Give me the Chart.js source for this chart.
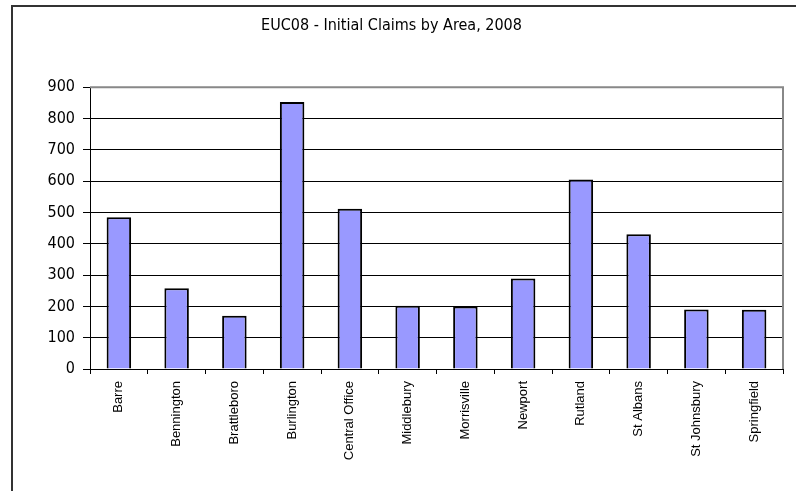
<!DOCTYPE html>
<html>
<head>
<meta charset="utf-8">
<script src="https://cdn.jsdelivr.net/npm/chart.js@4"></script>
<style>
  html, body { margin: 0; padding: 0; background: #fff; }
  #wrap { position: relative; width: 796px; height: 491px; }
</style>
</head>
<body>
<div id="wrap"><canvas id="claimsChart" width="796" height="491"></canvas></div>
<script>
// data
const areas = ['Barre', 'Bennington', 'Brattleboro', 'Burlington', 'Central Office', 'Middlebury',
               'Morrisville', 'Newport', 'Rutland', 'St Albans', 'St Johnsbury', 'Springfield'];
const claims = [485, 258, 170, 853, 512, 202, 200, 289, 605, 430, 190, 189];
const yTicks = [0, 100, 200, 300, 400, 500, 600, 700, 800, 900];

// frame around the picture + gray plot border on top/right
const framePlugin = {
    id: 'frame',
    beforeDraw(chart) {
        const c = chart.ctx;
        c.save();
        c.strokeStyle = '#333';
        c.lineWidth = 2;
        c.beginPath();
        c.moveTo(12, 491);
        c.lineTo(12, 6);
        c.lineTo(796, 6);
        c.stroke();
        c.restore();
    },
    afterDatasetsDraw(chart) {
        const a = chart.chartArea;
        const c = chart.ctx;
        c.save();
        c.strokeStyle = '#888';
        c.lineWidth = 2;
        c.beginPath();
        c.moveTo(a.left, a.top);
        c.lineTo(a.right, a.top);
        c.lineTo(a.right, a.bottom);
        c.stroke();
        c.restore();
    }
};

const narrow = "'DejaVu Sans Condensed', 'Liberation Sans', Arial, sans-serif";
Chart.defaults.font.family = "'Liberation Sans', Arial, sans-serif";
Chart.defaults.color = '#000';

new Chart(document.getElementById('claimsChart'), {
    type: 'bar',
    data: {
        labels: areas,
        datasets: [{
            label: 'Initial Claims',
            data: claims,
            backgroundColor: '#9999ff',
            borderColor: '#000',
            borderWidth: 2,
            barPercentage: 0.53,
            categoryPercentage: 0.8
        }]
    },
    options: {
        responsive: false,
        animation: false,
        layout: { padding: { left: 0, right: 13, top: 0, bottom: 0 } },
        plugins: {
            legend: { display: false },
            tooltip: { enabled: false },
            title: {
                display: true,
                text: 'EUC08 - Initial Claims by Area, 2008',
                font: { family: narrow, size: 16, weight: 'normal' },
                color: '#000',
                padding: { top: 16, bottom: 52 }
            }
        },
        scales: {
            x: {
                grid: { offset: true, drawOnChartArea: false, drawTicks: true, tickLength: 5, color: '#000' },
                border: { color: '#000', width: 1 },
                ticks: { maxRotation: 90, minRotation: 90, padding: 7, font: { size: 13 } },
                afterFit(scale) { scale.height = 122; }
            },
            y: {
                min: 0,
                max: 900,
                afterBuildTicks(scale) { scale.ticks = yTicks.map(v => ({ value: v })); },
                grid: { color: '#000', tickLength: 7, lineWidth: 1 },
                border: { color: '#000', width: 1 },
                ticks: { padding: 8, font: { family: narrow, size: 16 } },
                afterFit(scale) { scale.width = 90; }
            }
        }
    },
    plugins: [framePlugin]
});
</script>
</body>
</html>
